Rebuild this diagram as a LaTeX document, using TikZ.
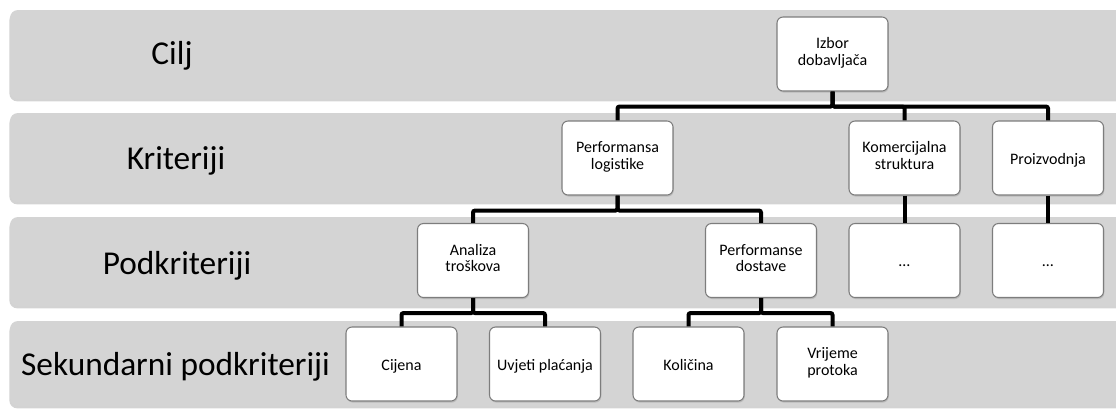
\documentclass[tikz,border=0pt]{standalone}
\usepackage{fontspec}
\setmainfont{Carlito}
\usetikzlibrary{shadows}
\definecolor{bandgray}{RGB}{212,212,212}
\definecolor{boxline}{RGB}{125,125,125}
\begin{document}
\begin{tikzpicture}[x=0.75pt,y=-0.75pt,
  band/.style={fill=bandgray, draw=none, rounded corners=6pt,
    drop shadow={shadow xshift=-0.5pt, shadow yshift=-1.8pt, opacity=0.35}},
  lbl/.style={font=\fontsize{25}{29}\selectfont, anchor=center},
  box/.style={draw=boxline, line width=0.8pt, fill=white, rounded corners=4.5pt,
    minimum width=83.25pt, minimum height=55.5pt, inner sep=0pt, align=center,
    font=\fontsize{12}{12.6}\selectfont,
    execute at begin node={\rule{0pt}{13.3pt}}, execute at end node={\strut},
    drop shadow={shadow xshift=0.6pt, shadow yshift=-1.2pt, opacity=0.3}},
  conn/.style={line width=3pt, rounded corners=1.5pt}]
\useasboundingbox (0,0) rectangle (1116,408);
\begin{scope}
  \clip (0,0) rectangle (1116,408);
  \path[band] (10,10) rectangle (1140,99);
  \path[band] (10,113) rectangle (1140,202);
  \path[band] (10,217) rectangle (1140,306);
  \path[band] (10,321) rectangle (1140,406);
\end{scope}
% level labels
\node[lbl] (lcilj) at (172,56) {Cilj};
\node[lbl] (lkrit) at (176,161) {Kriteriji};
\node[lbl] (lpodk) at (177,266) {Podkriteriji};
\node[lbl] (lsek)  at (175.5,367) {Sekundarni podkriteriji};
% boxes
\node[box] (izbor) at (832.5,54)  {Izbor\\dobavljača};
\node[box] (perfl) at (617.5,158) {Performansa\\logistike};
\node[box] (kom)   at (904.5,158) {Komercijalna\\struktura};
\node[box] (proiz) at (1048,158)  {Proizvodnja};
\node[box] (anal)  at (473,260.5) {Analiza\\troškova};
\node[box] (perfd) at (761,260.5) {Performanse\\dostave};
\node[box] (dotsa) at (904.5,260.5) {…};
\node[box] (dotsb) at (1048,260.5)  {…};
\node[box] (cij)   at (401.5,364) {Cijena};
\node[box] (uvj)   at (545,364)   {Uvjeti plaćanja};
\node[box] (kol)   at (688.5,364) {Količina};
\node[box] (vrij)  at (832.5,364) {Vrijeme\\protoka};
% connectors
\draw[conn] (izbor.south) -- ++(0,15) -| (perfl.north);
\draw[conn] (izbor.south) -- ++(0,15) -| (kom.north);
\draw[conn] (izbor.south) -- ++(0,15) -| (proiz.north);
\draw[conn] (perfl.south) -- ++(0,15) -| (anal.north);
\draw[conn] (perfl.south) -- ++(0,15) -| (perfd.north);
\draw[conn] (kom.south) -- (dotsa.north);
\draw[conn] (proiz.south) -- (dotsb.north);
\draw[conn] (anal.south) -- ++(0,15) -| (cij.north);
\draw[conn] (anal.south) -- ++(0,15) -| (uvj.north);
\draw[conn] (perfd.south) -- ++(0,15) -| (kol.north);
\draw[conn] (perfd.south) -- ++(0,15) -| (vrij.north);
\end{tikzpicture}
\end{document}
